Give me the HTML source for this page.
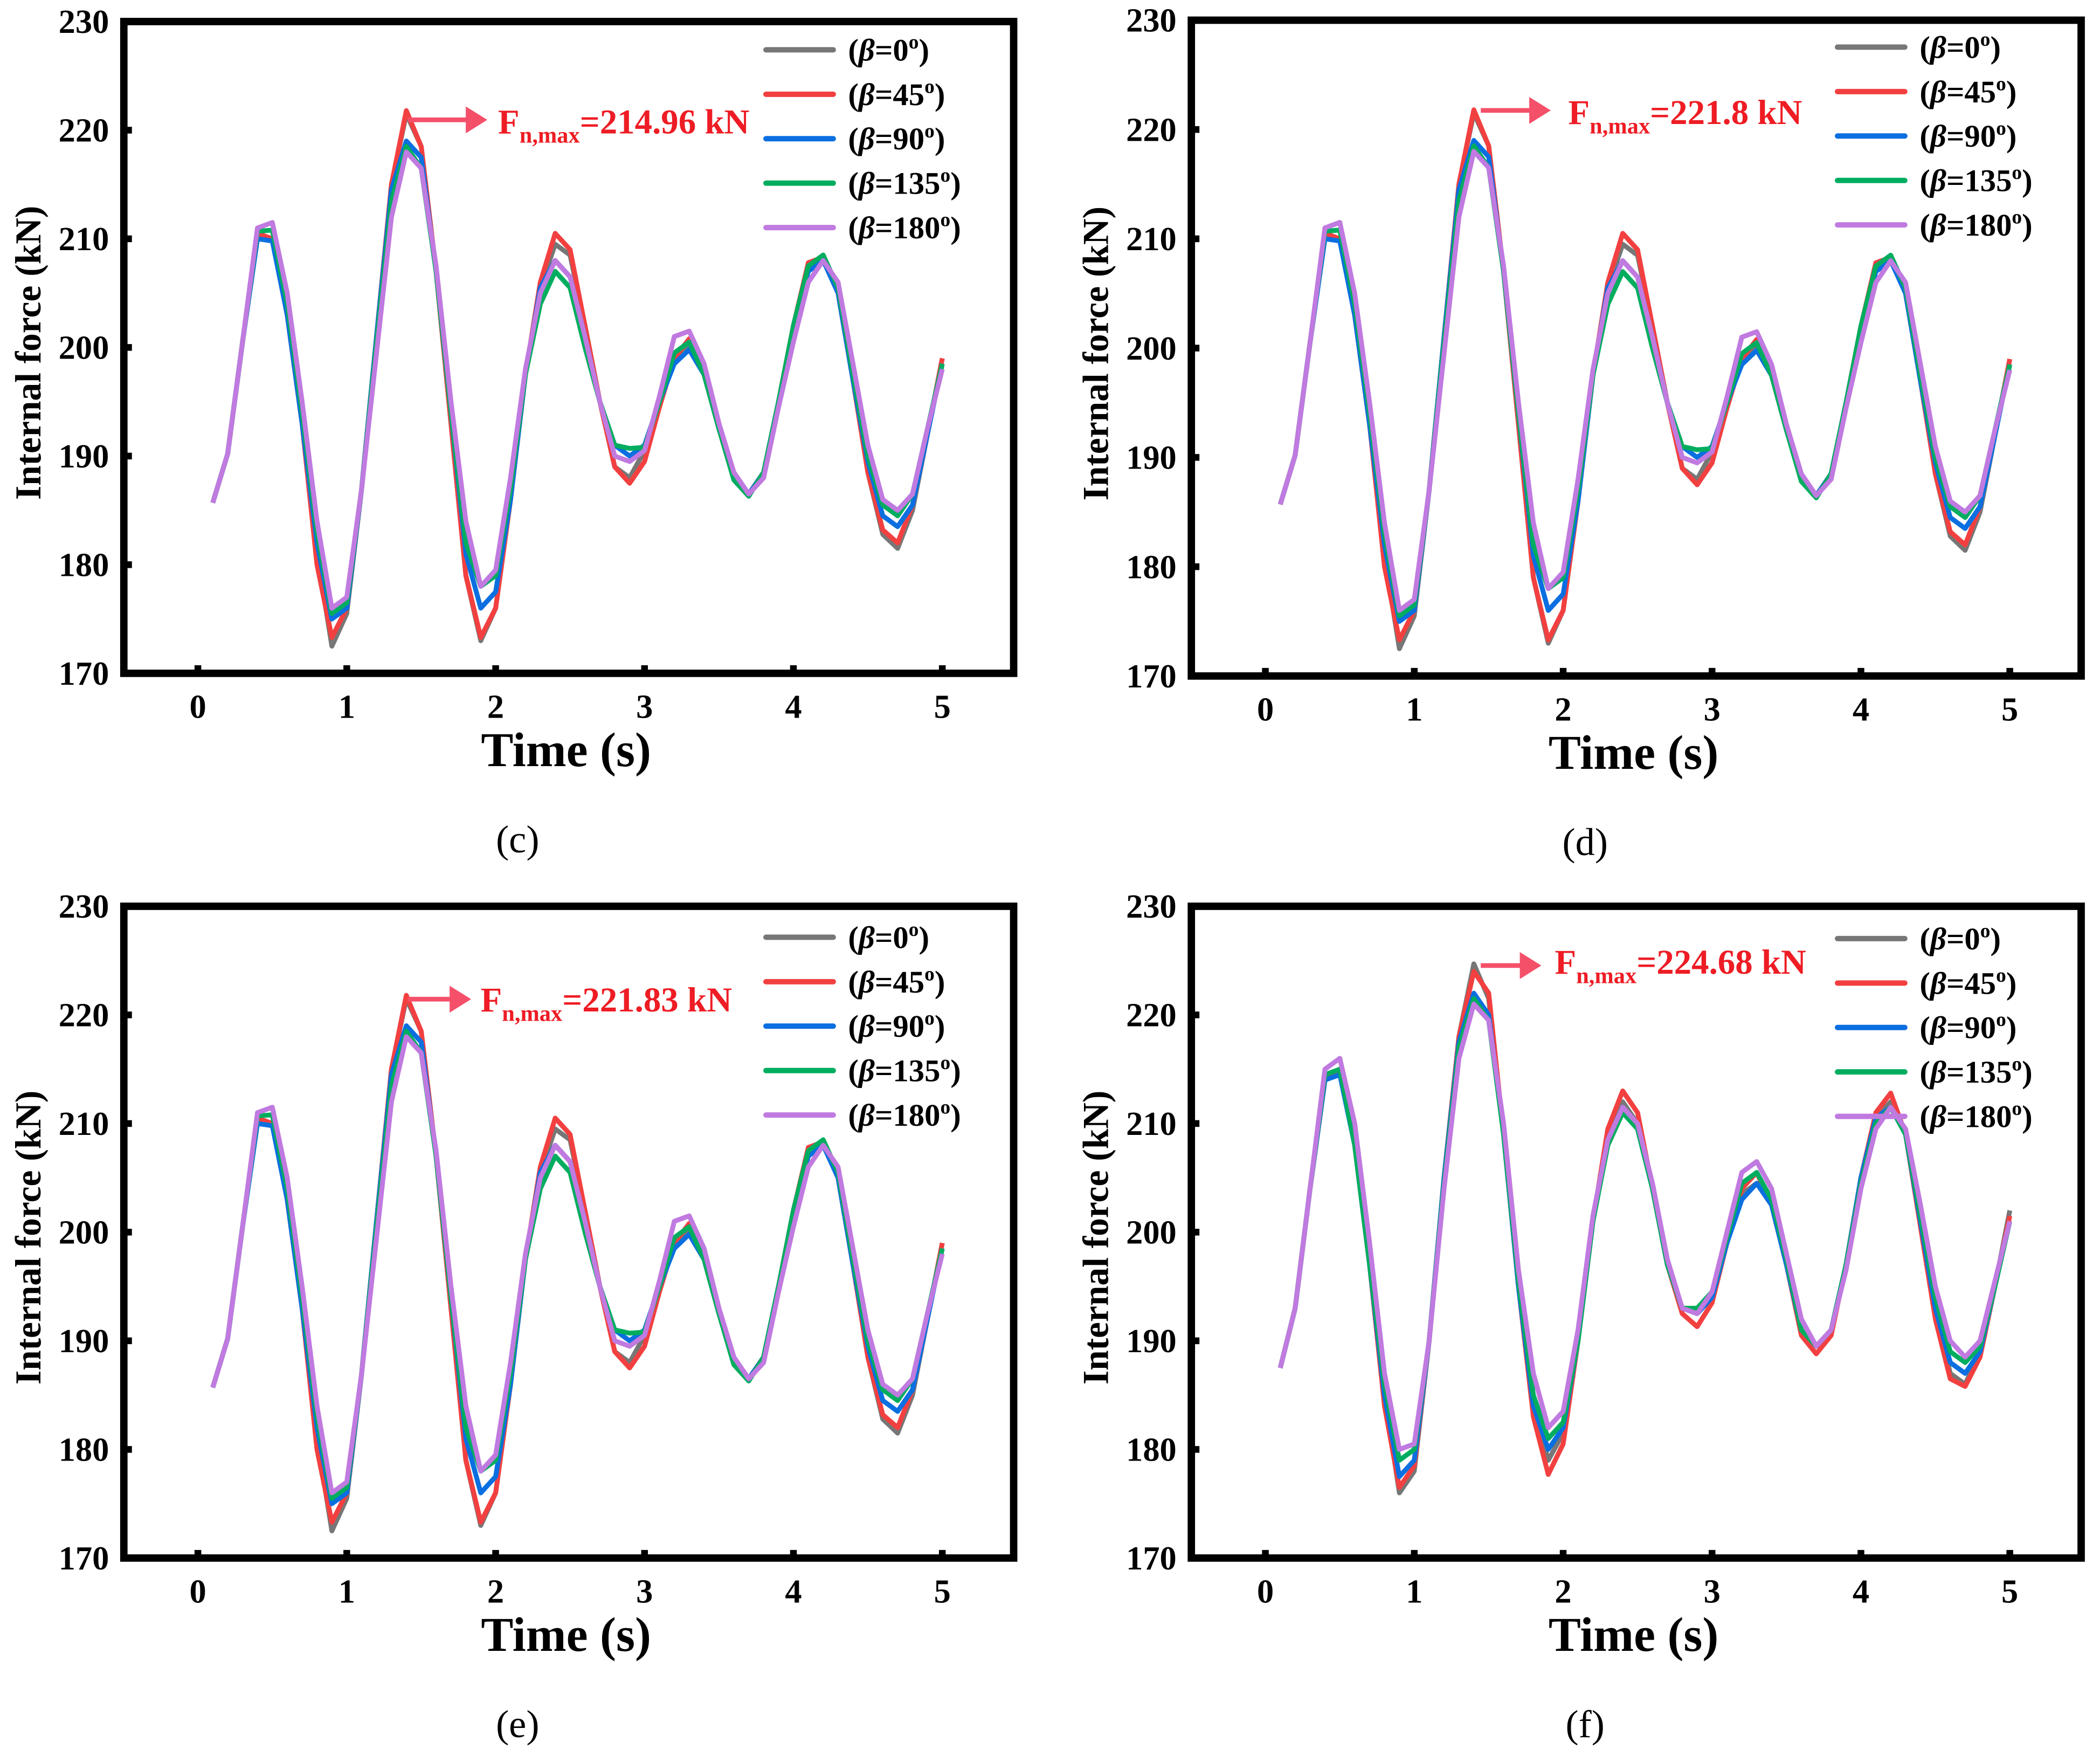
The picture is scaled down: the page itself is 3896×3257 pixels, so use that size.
<!DOCTYPE html>
<html><head><meta charset="utf-8"><style>
html,body{margin:0;padding:0;background:#fff;}
svg{display:block;}
text{font-family:"Liberation Serif",serif;}
</style></head><body>
<svg id="fig" width="3896" height="3257" viewBox="0 0 1560 1304" preserveAspectRatio="none" xmlns="http://www.w3.org/2000/svg"></svg>
<script>
const times=[0.1,0.2,0.3,0.4,0.5,0.6,0.7,0.8,0.9,1.0,1.1,1.2,1.3,1.4,1.5,1.6,1.7,1.8,1.9,2.0,2.1,2.2,2.3,2.4,2.5,2.6,2.7,2.8,2.9,3.0,3.1,3.2,3.3,3.4,3.5,3.6,3.7,3.8,3.9,4.0,4.1,4.2,4.3,4.4,4.5,4.6,4.7,4.8,4.9,5.0];
const yTicks=[170,180,190,200,210,220,230];
const xTicks=[0,1,2,3,4,5];
const seriesLabels=["0","45","90","135","180"];
// panels c,d,e
const cdeBeta0=[185.7,190.2,200.5,210.5,210,203,193,181,172.5,175.5,187,201,215,221.5,218.5,207,193,179,173,176,186,197.5,205.5,209.5,208.5,202,195,189,188,190.5,195,199,200,197.5,192.5,188,186.5,188.5,195,202,207.5,208.5,205,197,188.5,182.8,181.5,185,192,199];
const cdeBeta45=[185.7,190.2,200.5,210.5,210,203,193,180,173.3,176,187,201,215,221.8,218.5,207,193,179,173.3,176,186,197.5,206,210.5,209,202,195,189,187.5,189.5,194.5,199,200.8,197.5,192.5,188,186.5,188.5,195,202,207.8,208.3,205,197,188.5,183.2,182,185.5,192,199];
const cdeBeta90=[185.7,190.2,200.5,210,209.8,203,193,182,175,176,187,201,214.5,219,217.5,207,194,181,176,177.5,186,197.5,205.5,208,206.5,201,195,191,190,191,195,198.5,199.8,197.5,192.5,188,186.5,188.5,195,201.5,207,208,205,197,189.5,184.5,183.5,185.5,192,198.5];
const cdeBeta135=[185.7,190.2,200.5,210.7,210.8,204,194,183,175.5,176.5,187,200.5,213.5,218.5,216.5,207,194,182,178,179,187,197.5,204,207,205.5,200,195,191,190.7,190.8,195,199.5,200.5,197.5,192.5,187.8,186.3,188.5,195,202,207.5,208.5,205.5,197.5,190,185.5,184.5,186.5,192.5,198.5];
const cdeBeta180=[185.7,190.2,200.5,211,211.5,205,195,184,176,177,187,199.5,212,218,216.5,207.5,195,184,178,179.5,188,198,205,208,206.5,201,195,190,189.5,190.5,195.5,201,201.5,198.5,193,188.5,186.5,188,194.5,200.5,206,208,206,198.5,191,186,185,186.5,192.5,198];
// panel f
const fBeta0=[187.5,193,204,214,215,208,197,185,176,178,190,205,218,224.7,221.5,209,195,184,179,181.5,190,201,209,212,210,204,197,193,192.5,194,199,203.5,204.5,202.5,197,191,189.5,191,197,205,210.5,212,209,201,193,187,186,189,195,202];
const fBeta45=[187.5,193,204,214,215,208,197,184,176.5,178.5,190,205,218,224,222,209,195,183,177.7,180.5,190,201,209.5,213,211,204,197,192.5,191.3,193.5,199,204,205.5,202.5,197,190.5,188.8,190.5,197,205,211,212.8,209,200.5,192,186.5,185.8,188.5,195,201.5];
const fBeta90=[187.5,193,204,214,214.5,208,197,185,177.5,179,190,205,217.5,222,220,209,195,184,180,182,190,201,208.5,211.5,209.5,204,197,193,192.5,194,199,203,204.5,202.5,197,191,189.5,191,197,205,210.5,211.5,209,201,193,188,187,189,195,201];
const fBeta135=[187.5,193,204,214.5,215,208,197,186,179,180,190,204.5,217,221.5,219.5,209,195.5,185,181,182.5,190,201,208,211,209.5,204,197,193,193,194.5,199.5,204.5,205.5,203,197.5,191,189.5,191,197,204.5,210,211.5,209,201.5,194,189,188,189.5,195,201];
const fBeta180=[187.5,193,204,215,216,210,199,187,180,180.5,190,204,216,221,219.5,210,196.5,187,182,183.5,191,201.5,208.5,211.5,210,204.5,197.5,193,192.5,194.5,200,205.5,206.5,204,198,192,189.5,191,196.5,204,209.5,211.5,209.5,202.5,195,190,188.5,190,195.5,201];
const colors=["#777777","#f24040","#0a6fe0","#00ad5f","#c07ae0"];
const panelLabels=["(c)","(d)","(e)","(f)"];
const annotations=["214.96","221.8","221.83","224.68"];

const NS="http://www.w3.org/2000/svg";
const svg=document.getElementById("fig");
function mk(tag,attrs,parent){const e=document.createElementNS(NS,tag);for(const k in attrs)e.setAttribute(k,attrs[k]);(parent||svg).appendChild(e);return e;}

const panels=[
 {L:92,R:753,T:16,B:500,data:[cdeBeta0,cdeBeta45,cdeBeta90,cdeBeta135,cdeBeta180],leg:{x:567,y:37},ann:{x1:303,x2:362,y:89,tx:370,ty:99}},
 {L:885,R:1546,T:15,B:502,data:[cdeBeta0,cdeBeta45,cdeBeta90,cdeBeta135,cdeBeta180],leg:{x:1363,y:35},ann:{x1:1100,x2:1152,y:82,tx:1165,ty:92}},
 {L:92,R:753,T:673,B:1157,data:[cdeBeta0,cdeBeta45,cdeBeta90,cdeBeta135,cdeBeta180],leg:{x:567,y:696},ann:{x1:303,x2:350,y:742,tx:357,ty:751}},
 {L:885,R:1546,T:673,B:1157,data:[fBeta0,fBeta45,fBeta90,fBeta135,fBeta180],leg:{x:1363,y:697},ann:{x1:1100,x2:1145,y:717,tx:1155,ty:723}}
];

panels.forEach((p,pi)=>{
  const g=mk("g",{});
  
  
  const x0=p.L+55, x5=p.L+608;
  const xs=t=>x0+(x5-x0)*t/5;
  const ys=v=>p.B-(p.B-p.T)*(v-170)/60;
  const clip="clip"+pi;
  const cp=mk("clipPath",{id:clip},g);mk("rect",{x:p.L,y:p.T,width:p.R-p.L,height:p.B-p.T},cp);
  p.data.forEach((arr,si)=>{
    const d=arr.map((v,i)=>(i?"L":"M")+xs(times[i]).toFixed(2)+" "+ys(v).toFixed(2)).join(" ");
    const pa=mk("path",{d:d,fill:"none",stroke:colors[si],"stroke-width":3.6,"stroke-linejoin":"round","clip-path":"url(#"+clip+")"},g);
    
    
  });
  const fr=mk("rect",{x:p.L,y:p.T,width:p.R-p.L,height:p.B-p.T,fill:"none",stroke:"#000","stroke-width":5.5},g);
  
  
  yTicks.forEach(v=>{
    mk("line",{x1:p.L,x2:p.L+6,y1:ys(v),y2:ys(v),stroke:"#000","stroke-width":5},g);
    const t=mk("text",{x:p.L-11,y:ys(v)+8.5,"text-anchor":"end","font-size":25,"font-weight":"bold"},g);
    t.textContent=v;
    
    
  });
  xTicks.forEach(v=>{
    mk("line",{x1:xs(v),x2:xs(v),y1:p.B,y2:p.B-6,stroke:"#000","stroke-width":5},g);
    const t=mk("text",{x:xs(v),y:p.B+33,"text-anchor":"middle","font-size":25,"font-weight":"bold"},g);
    t.textContent=v;
    
    
  });
  const xt=mk("text",{x:(p.L+p.R)/2-2,y:p.B+69,"text-anchor":"middle","font-size":36,"font-weight":"bold"},g);
  xt.textContent="Time (s)";
  
  
  const ytx=p.L-62, yty=(p.T+p.B)/2+4;
  const yt=mk("text",{x:ytx,y:yty,"text-anchor":"middle","font-size":27,"font-weight":"bold",transform:"rotate(-90 "+ytx+" "+yty+")"},g);
  yt.textContent="Internal force (kN)";
  
  
  const pl=mk("text",{x:(p.L+p.R)/2-38,y:p.B+133,"text-anchor":"middle","font-size":29},g);
  pl.textContent=panelLabels[pi];
  
  
  seriesLabels.forEach((lab,si)=>{
    const ly=p.leg.y+si*33;
    const le=mk("g",{},g);
    
    
    mk("line",{x1:p.leg.x+2,x2:p.leg.x+52,y1:ly,y2:ly,stroke:colors[si],"stroke-width":4,"stroke-linecap":"round"},le);
    const t=mk("text",{x:p.leg.x+63,y:ly+8,"font-size":23.5,"font-weight":"bold"},le);
    t.innerHTML='(<tspan font-style="italic">β</tspan>='+lab+'<tspan dy="-9" font-size="15">o</tspan><tspan dy="9">)</tspan>';
  });
  const a=p.ann;
  const an=mk("g",{},g);
  
  
  mk("line",{x1:a.x1,x2:a.x2-14,y1:a.y,y2:a.y,stroke:"#f5506a","stroke-width":3.5},an);
  mk("polygon",{points:(a.x2-16)+","+(a.y-10)+" "+a.x2+","+a.y+" "+(a.x2-16)+","+(a.y+10),fill:"#f5506a"},an);
  const at=mk("text",{x:a.tx,y:a.ty,"font-size":26,"font-weight":"bold",fill:"#ee1c24"},an);
  at.innerHTML='F<tspan dy="7" font-size="17">n,max</tspan><tspan dy="-7">='+annotations[pi]+' kN</tspan>';
});
</script>
</body></html>
